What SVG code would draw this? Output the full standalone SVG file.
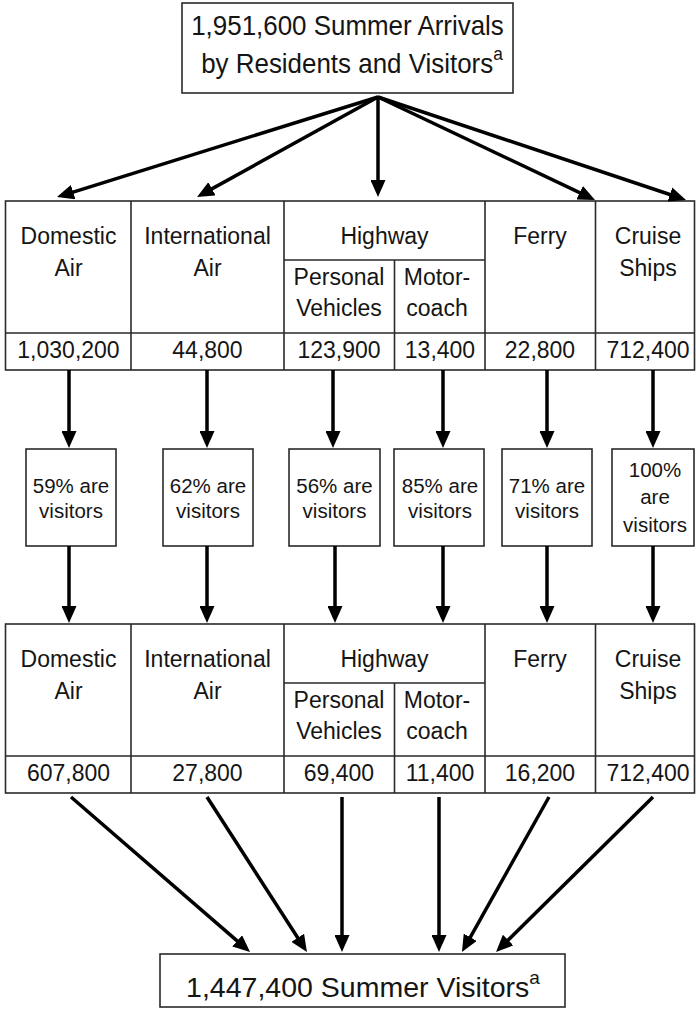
<svg xmlns="http://www.w3.org/2000/svg" width="696" height="1011" viewBox="0 0 696 1011">
<style>
text{font-family:"Liberation Sans",Arial,sans-serif;fill:#151515;text-anchor:middle}
.t{font-size:23px}
.p{font-size:20.5px}
.h{font-size:28.5px}
.box{fill:#fff;stroke:#2a2a2a;stroke-width:1.6}
.ln{stroke:#2a2a2a;stroke-width:1.6;fill:none}
.arr{stroke:#000;stroke-width:3.5;fill:none;marker-end:url(#ah)}
</style>
<defs>
<marker id="ah" markerUnits="userSpaceOnUse" markerWidth="17" markerHeight="15" refX="11" refY="7.5" orient="auto" viewBox="0 0 17 15">
<path d="M0,0 L17,7.5 L0,15 z" fill="#000"/>
</marker>
<g id="grid">
<rect class="box" x="5.5" y="0" width="689" height="169"/>
<path class="ln" d="M5.5,132H694.5M131,0V169M284,0V169M485,0V169M595.5,0V169M284,59H485M394.5,59V169"/>
</g>
</defs>
<rect width="696" height="1011" fill="#fff"/>

<g id="top">
<rect class="box" x="182" y="3" width="331" height="90"/>
<text class="h" transform="translate(347.5,35) scale(0.91,1)">1,951,600 Summer Arrivals</text>
<text class="h" transform="translate(352,73) scale(0.91,1)">by Residents and Visitors<tspan font-size="19" dy="-13">a</tspan></text>
</g>

<g id="table-arrivals">
<use href="#grid" y="201"/>
<g id="t1-domestic"><text class="t" x="68.5" y="244">Domestic</text><text class="t" x="68.5" y="276">Air</text><text class="t" x="68.5" y="358">1,030,200</text></g>
<g id="t1-international"><text class="t" x="207.5" y="244">International</text><text class="t" x="207.5" y="276">Air</text><text class="t" x="207.5" y="358">44,800</text></g>
<g id="t1-highway"><text class="t" x="384.5" y="244">Highway</text></g>
<g id="t1-personal"><text class="t" x="339" y="285">Personal</text><text class="t" x="339" y="316">Vehicles</text><text class="t" x="339" y="358">123,900</text></g>
<g id="t1-motorcoach"><text class="t" x="437" y="285">Motor-</text><text class="t" x="437" y="316">coach</text><text class="t" x="440" y="358">13,400</text></g>
<g id="t1-ferry"><text class="t" x="540" y="244">Ferry</text><text class="t" x="540" y="358">22,800</text></g>
<g id="t1-cruise"><text class="t" x="648" y="244">Cruise</text><text class="t" x="648" y="276">Ships</text><text class="t" x="648" y="358">712,400</text></g>
</g>

<g id="pct-domestic"><rect class="box" x="26" y="449" width="90" height="97"/><text class="p" x="71" y="493">59% are</text><text class="p" x="71" y="518">visitors</text></g>
<g id="pct-international"><rect class="box" x="163" y="449" width="90" height="97"/><text class="p" x="208" y="493">62% are</text><text class="p" x="208" y="518">visitors</text></g>
<g id="pct-personal"><rect class="box" x="289" y="449" width="91" height="97"/><text class="p" x="334.5" y="493">56% are</text><text class="p" x="334.5" y="518">visitors</text></g>
<g id="pct-motorcoach"><rect class="box" x="394" y="449" width="90" height="97"/><text class="p" x="440" y="493">85% are</text><text class="p" x="440" y="518">visitors</text></g>
<g id="pct-ferry"><rect class="box" x="502" y="449" width="90" height="97"/><text class="p" x="547" y="493">71% are</text><text class="p" x="547" y="518">visitors</text></g>
<g id="pct-cruise"><rect class="box" x="612" y="449" width="82" height="97"/><text class="p" x="655" y="477">100%</text><text class="p" x="655" y="504">are</text><text class="p" x="655" y="532">visitors</text></g>

<g id="table-visitors">
<use href="#grid" y="624"/>
<g id="t2-domestic"><text class="t" x="68.5" y="667">Domestic</text><text class="t" x="68.5" y="699">Air</text><text class="t" x="68.5" y="781">607,800</text></g>
<g id="t2-international"><text class="t" x="207.5" y="667">International</text><text class="t" x="207.5" y="699">Air</text><text class="t" x="207.5" y="781">27,800</text></g>
<g id="t2-highway"><text class="t" x="384.5" y="667">Highway</text></g>
<g id="t2-personal"><text class="t" x="339" y="708">Personal</text><text class="t" x="339" y="739">Vehicles</text><text class="t" x="339" y="781">69,400</text></g>
<g id="t2-motorcoach"><text class="t" x="437" y="708">Motor-</text><text class="t" x="437" y="739">coach</text><text class="t" x="440" y="781">11,400</text></g>
<g id="t2-ferry"><text class="t" x="540" y="667">Ferry</text><text class="t" x="540" y="781">16,200</text></g>
<g id="t2-cruise"><text class="t" x="648" y="667">Cruise</text><text class="t" x="648" y="699">Ships</text><text class="t" x="648" y="781">712,400</text></g>
</g>

<g id="bottom">
<rect class="box" x="160" y="954" width="405" height="53"/>
<text class="h" x="363" y="997">1,447,400 Summer Visitors<tspan font-size="19" dy="-13">a</tspan></text>
</g>

<g id="connectors">
<path class="arr" d="M378,97L62.7,195.3"/>
<path class="arr" d="M378,97L202.3,194.1"/>
<path class="arr" d="M378,97L378,191"/>
<path class="arr" d="M378,97L589.6,197.4"/>
<path class="arr" d="M378,97L680.3,198"/>

<path class="arr" d="M69,370V442"/>
<path class="arr" d="M207,370V442"/>
<path class="arr" d="M333,370V442"/>
<path class="arr" d="M443,370V442"/>
<path class="arr" d="M547,370V442"/>
<path class="arr" d="M653,370V442"/>

<path class="arr" d="M69,546V617"/>
<path class="arr" d="M207,546V617"/>
<path class="arr" d="M335,546V617"/>
<path class="arr" d="M443,546V617"/>
<path class="arr" d="M547,546V617"/>
<path class="arr" d="M653,546V617"/>

<path class="arr" d="M71,797L245.5,948.1"/>
<path class="arr" d="M207,797L303.7,947"/>
<path class="arr" d="M342,797L342,946"/>
<path class="arr" d="M439,797L439,946"/>
<path class="arr" d="M549,797L464.9,946.8"/>
<path class="arr" d="M653,797L500.3,947.8"/>
</g>
</svg>
